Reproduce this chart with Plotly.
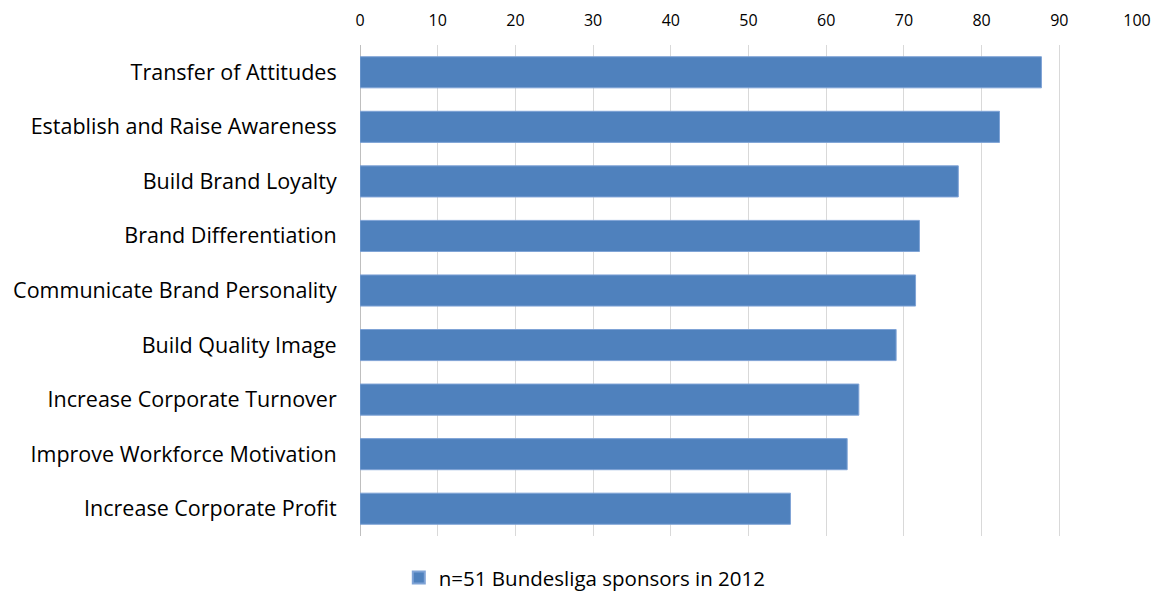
import plotly.graph_objects as go

categories = [
    "Transfer of Attitudes",
    "Establish and Raise Awareness",
    "Build Brand Loyalty",
    "Brand Differentiation",
    "Communicate Brand Personality",
    "Build Quality Image",
    "Increase Corporate Turnover",
    "Improve Workforce Motivation",
    "Increase Corporate Profit",
]
values = [87.7, 82.3, 77.0, 72.0, 71.5, 69.0, 64.2, 62.7, 55.4]
series_name = "n=51 Bundesliga sponsors in 2012"
tick_vals = [0, 10, 20, 30, 40, 50, 60, 70, 80, 90, 100]

fig = go.Figure()
fig.add_trace(go.Bar(
    y=categories,
    x=values,
    orientation="h",
    name=series_name,
    marker=dict(color="#4f81bd", line=dict(color="#7fa3d6", width=1)),
    showlegend=True,
))

font_family = "Open Sans, sans-serif"

fig.update_layout(
    width=1158,
    height=592,
    margin=dict(l=360, r=21, t=45, b=56, autoexpand=False),
    paper_bgcolor="white",
    plot_bgcolor="white",
    bargap=0.43,
    font=dict(family=font_family, size=18, color="#000000"),
    xaxis=dict(
        side="top",
        range=[0, 100],
        tickvals=tick_vals,
        showgrid=True,
        gridcolor="#d9d9d9",
        gridwidth=1,
        zeroline=True,
        zerolinecolor="#bfbfbf",
        zerolinewidth=1,
        showline=False,
        ticks="outside",
        ticklen=12,
        tickcolor="white",
        tickfont=dict(size=16),
        fixedrange=True,
    ),
    yaxis=dict(
        categoryorder="array",
        categoryarray=categories,
        autorange="reversed",
        showgrid=False,
        ticks="outside",
        ticklen=18,
        tickcolor="white",
        tickfont=dict(size=21.5),
        showline=False,
    ),
    legend=dict(
        orientation="h",
        xref="container",
        yref="container",
        x=0.505,
        xanchor="center",
        y=0.024,
        yanchor="middle",
        font=dict(size=20.5),
        itemsizing="constant",
        itemwidth=30,
    ),
)

fig.write_html("out.html")
